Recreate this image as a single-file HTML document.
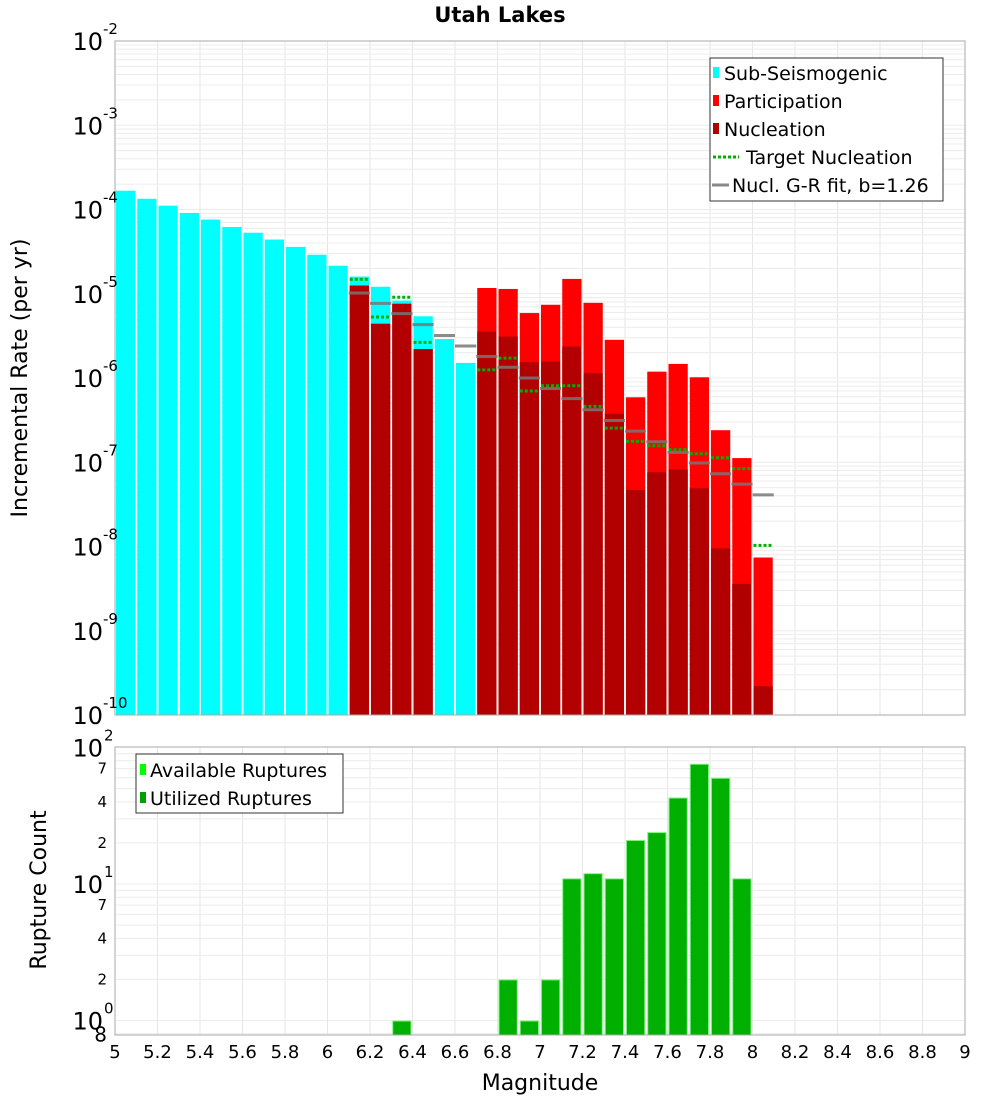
<!DOCTYPE html>
<html><head><meta charset="utf-8"><style>
html,body{margin:0;padding:0;background:#fff;}
svg{display:block;font-family:"DejaVu Sans","Liberation Sans",sans-serif;}
</style></head><body>
<svg id="chart" width="1000" height="1100" viewBox="0 0 1000 1100" xmlns="http://www.w3.org/2000/svg">
<rect width="1000" height="1100" fill="#fff"/>
<text x="500" y="22" text-anchor="middle" font-size="21" font-weight="bold">Utah Lakes</text>
<g id="top-grid"></g>
<g id="top-marks"></g>
<rect x="115" y="41" width="850" height="674" fill="none" stroke="#aaa" stroke-width="1"/>
<g id="top-yticks" font-size="24"></g>
<text transform="translate(27,378) rotate(-90)" text-anchor="middle" font-size="22">Incremental Rate (per yr)</text>
<g>
<rect x="710" y="58" width="233" height="143" fill="#fff" stroke="#333" stroke-width="1"/>
<rect x="713" y="67" width="6" height="11" fill="#00ffff"/>
<text x="724" y="80" font-size="19">Sub-Seismogenic</text>
<rect x="713" y="95" width="6" height="11" fill="#ff0000"/>
<text x="724" y="108" font-size="19">Participation</text>
<rect x="713" y="123" width="6" height="11" fill="#b20000"/>
<text x="724" y="136" font-size="19">Nucleation</text>
<line x1="713" y1="157" x2="739" y2="157" stroke="#00b000" stroke-width="3" stroke-dasharray="3,2"/>
<text x="746" y="164" font-size="19">Target Nucleation</text>
<line x1="712" y1="185" x2="729" y2="185" stroke="#888" stroke-width="3"/>
<text x="732" y="192" font-size="19">Nucl. G-R fit, b=1.26</text>
</g>
<g id="bot-grid"></g>
<g id="bot-marks"></g>
<rect x="115" y="747" width="850" height="288" fill="none" stroke="#aaa" stroke-width="1"/>
<g id="bot-yticks"></g>
<text transform="translate(46,890) rotate(-90)" text-anchor="middle" font-size="22">Rupture Count</text>
<g>
<rect x="136" y="754" width="207" height="59" fill="#fff" stroke="#333" stroke-width="1"/>
<rect x="140" y="764" width="6" height="11" fill="#00ff00"/>
<text x="150" y="777" font-size="19">Available Ruptures</text>
<rect x="140" y="792" width="6" height="11" fill="#00a000"/>
<text x="150" y="805" font-size="19">Utilized Ruptures</text>
</g>
<g id="xticks" font-size="18"></g>
<text x="540" y="1090" text-anchor="middle" font-size="22">Magnitude</text>
</svg>
<script>
const mags = [5.05,5.15,5.25,5.35,5.45,5.55,5.65,5.75,5.85,5.95,6.05,6.15,6.25,6.35,6.45,6.55,6.65,6.75,6.85,6.95,7.05,7.15,7.25,7.35,7.45,7.55,7.65,7.75,7.85,7.95,8.05];
const subSeis = [1.67e-4,1.34e-4,1.11e-4,9.1e-5,7.6e-5,6.2e-5,5.3e-5,4.4e-5,3.6e-5,2.9e-5,2.15e-5,1.6e-5,1.21e-5,8.3e-6,5.4e-6,2.9e-6,1.51e-6,null,null,null,null,null,null,null,null,null,null,null,null,null,null];
const participation = [null,null,null,null,null,null,null,null,null,null,null,1.25e-5,4.4e-6,7.6e-6,2.2e-6,null,null,1.17e-5,1.14e-5,5.9e-6,7.4e-6,1.5e-5,7.8e-6,2.84e-6,5.9e-7,1.19e-6,1.47e-6,1.02e-6,2.4e-7,1.12e-7,7.4e-9];
const nucleation = [null,null,null,null,null,null,null,null,null,null,null,1.25e-5,4.4e-6,7.6e-6,2.2e-6,null,null,3.56e-6,3.1e-6,1.54e-6,1.57e-6,2.36e-6,1.14e-6,3.77e-7,4.7e-8,7.6e-8,8.2e-8,4.9e-8,9.5e-9,3.6e-9,2.2e-10];
const targetNucl = [null,null,null,null,null,null,null,null,null,null,null,1.48e-5,5.3e-6,9.1e-6,2.65e-6,null,null,1.25e-6,1.72e-6,7.0e-7,8.1e-7,8.1e-7,4.6e-7,2.54e-7,1.77e-7,1.57e-7,1.41e-7,1.26e-7,1.13e-7,8.4e-8,1.03e-8];
const grFit = [null,null,null,null,null,null,null,null,null,null,null,1.02e-5,7.7e-6,5.8e-6,4.3e-6,3.2e-6,2.4e-6,1.8e-6,1.34e-6,1.0e-6,7.5e-7,5.7e-7,4.2e-7,3.13e-7,2.34e-7,1.75e-7,1.31e-7,9.8e-8,7.3e-8,5.5e-8,4.1e-8];
const countMags = [6.35,6.85,6.95,7.05,7.15,7.25,7.35,7.45,7.55,7.65,7.75,7.85,7.95];
const availableCounts = [1,2,1,2,11,12,11,21,24,43,76,60,11];
const utilizedCounts = [1,2,1,2,11,12,11,21,24,43,76,60,11];
const xTickLabels = ["5","5.2","5.4","5.6","5.8","6","6.2","6.4","6.6","6.8","7","7.2","7.4","7.6","7.8","8","8.2","8.4","8.6","8.8","9"];
const topDecades = [-2,-3,-4,-5,-6,-7,-8,-9,-10];
const botDecades = [2,1,0];

const NS="http://www.w3.org/2000/svg";
const X0=115,X1=965,XMIN=5,XMAX=9;
const x=m=>X0+(m-XMIN)/(XMAX-XMIN)*(X1-X0);
const BW=(X1-X0)/(XMAX-XMIN)*0.1;
const TY0=41,TY1=715;
const yTop=v=>TY0+(-2-Math.log10(v))/8*(TY1-TY0);
const BY0=747.5,BDEC=136.5,BY1=1035;
const yBot=v=>BY0+(2-Math.log10(v))*BDEC;
function el(tag,attrs,parent,txt){const e=document.createElementNS(NS,tag);for(const k in attrs)e.setAttribute(k,attrs[k]);if(txt!==undefined)e.textContent=txt;parent.appendChild(e);return e;}
const tg=document.getElementById('top-grid'),tm=document.getElementById('top-marks');
const bg=document.getElementById('bot-grid'),bm=document.getElementById('bot-marks');
// grids
xTickLabels.forEach(l=>{const xx=x(parseFloat(l));
 const a=el('line',{x1:xx,x2:xx,y1:TY0,y2:TY1,stroke:'#e6e6e6'},tg);
 
 const b=el('line',{x1:xx,x2:xx,y1:BY0,y2:BY1,stroke:'#e6e6e6'},bg);
 
});
topDecades.forEach(d=>{for(let k=1;k<10;k++){const v=k*Math.pow(10,d);if(d===-2&&k>1)continue;const yy=yTop(v);
 const g=el('line',{x1:X0,x2:X1,y1:yy,y2:yy,stroke:'#ececec'},tg);
 }});
[0,1].forEach(d=>{for(let k=1;k<10;k++){const v=k*Math.pow(10,d);const yy=yBot(v);if(yy>BY1)continue;
 const g=el('line',{x1:X0,x2:X1,y1:yy,y2:yy,stroke:'#ececec'},bg);
 }});
{const g=el('line',{x1:X0,x2:X1,y1:yBot(0.8),y2:yBot(0.8),stroke:'#ececec'},bg);}
// bars
function bar(parent,m,v,fill,yf,base,name){if(v==null)return;const yy=yf(v);
 const r=el('rect',{x:x(m)-BW/2+1,y:yy,width:BW-2,height:base-yy,fill:fill},parent);
 }
mags.forEach((m,i)=>bar(tm,m,subSeis[i],'#00ffff',yTop,TY1,'subseismogenic-bar'));
mags.forEach((m,i)=>bar(tm,m,participation[i],'#ff0000',yTop,TY1,'participation-bar'));
mags.forEach((m,i)=>bar(tm,m,nucleation[i],'#b20000',yTop,TY1,'nucleation-bar'));
mags.forEach((m,i)=>{const v=grFit[i];if(v==null)return;const yy=yTop(v);
 const l=el('line',{x1:x(m)-BW/2,x2:x(m)+BW/2,y1:yy,y2:yy,stroke:'#777','stroke-width':3,'stroke-opacity':0.85},tm);
 });
mags.forEach((m,i)=>{const v=targetNucl[i];if(v==null)return;const yy=yTop(v);
 const l=el('line',{x1:x(m)-BW/2+1,x2:x(m)+BW/2-1,y1:yy,y2:yy,stroke:'#00b000','stroke-width':3,'stroke-dasharray':'3,2'},tm);
 });
countMags.forEach((m,i)=>bar(bm,m,availableCounts[i],'#7ff07f',yBot,BY1,'available-ruptures-bar'));
countMags.forEach((m,i)=>{const v=utilizedCounts[i];const yy=yBot(v);
 const r=el('rect',{x:x(m)-BW/2+2,y:yy+1,width:BW-4,height:BY1-yy-1,fill:'#00b000'},bm);
 });
// ticks
const xt=document.getElementById('xticks');
xTickLabels.forEach(l=>{const t=el('text',{x:x(parseFloat(l)),y:1058,'text-anchor':'middle'},xt,l);
 });
const ty=document.getElementById('top-yticks');
topDecades.forEach(d=>{const yy=yTop(Math.pow(10,d));
 const t=el('text',{x:103,y:yy+9,'text-anchor':'end','font-size':24},ty,'10');
 
 const s=el('text',{x:103,y:yy-7,'font-size':15},ty,String(d));
 });
const by=document.getElementById('bot-yticks');
botDecades.forEach(d=>{const yy=yBot(Math.pow(10,d));
 const t=el('text',{x:103,y:yy+9,'text-anchor':'end','font-size':24},by,'10');
 
 const s=el('text',{x:104,y:yy-7,'font-size':15},by,String(d));
 });
[1,0].forEach(d=>[7,4,2].forEach(k=>{const yy=yBot(k*Math.pow(10,d));
 const t=el('text',{x:107,y:yy+5,'text-anchor':'end','font-size':15},by,String(k));
 }));
{const t=el('text',{x:107,y:yBot(0.8)+8,'text-anchor':'end','font-size':20},by,'8');
 }
</script>
</body></html>
